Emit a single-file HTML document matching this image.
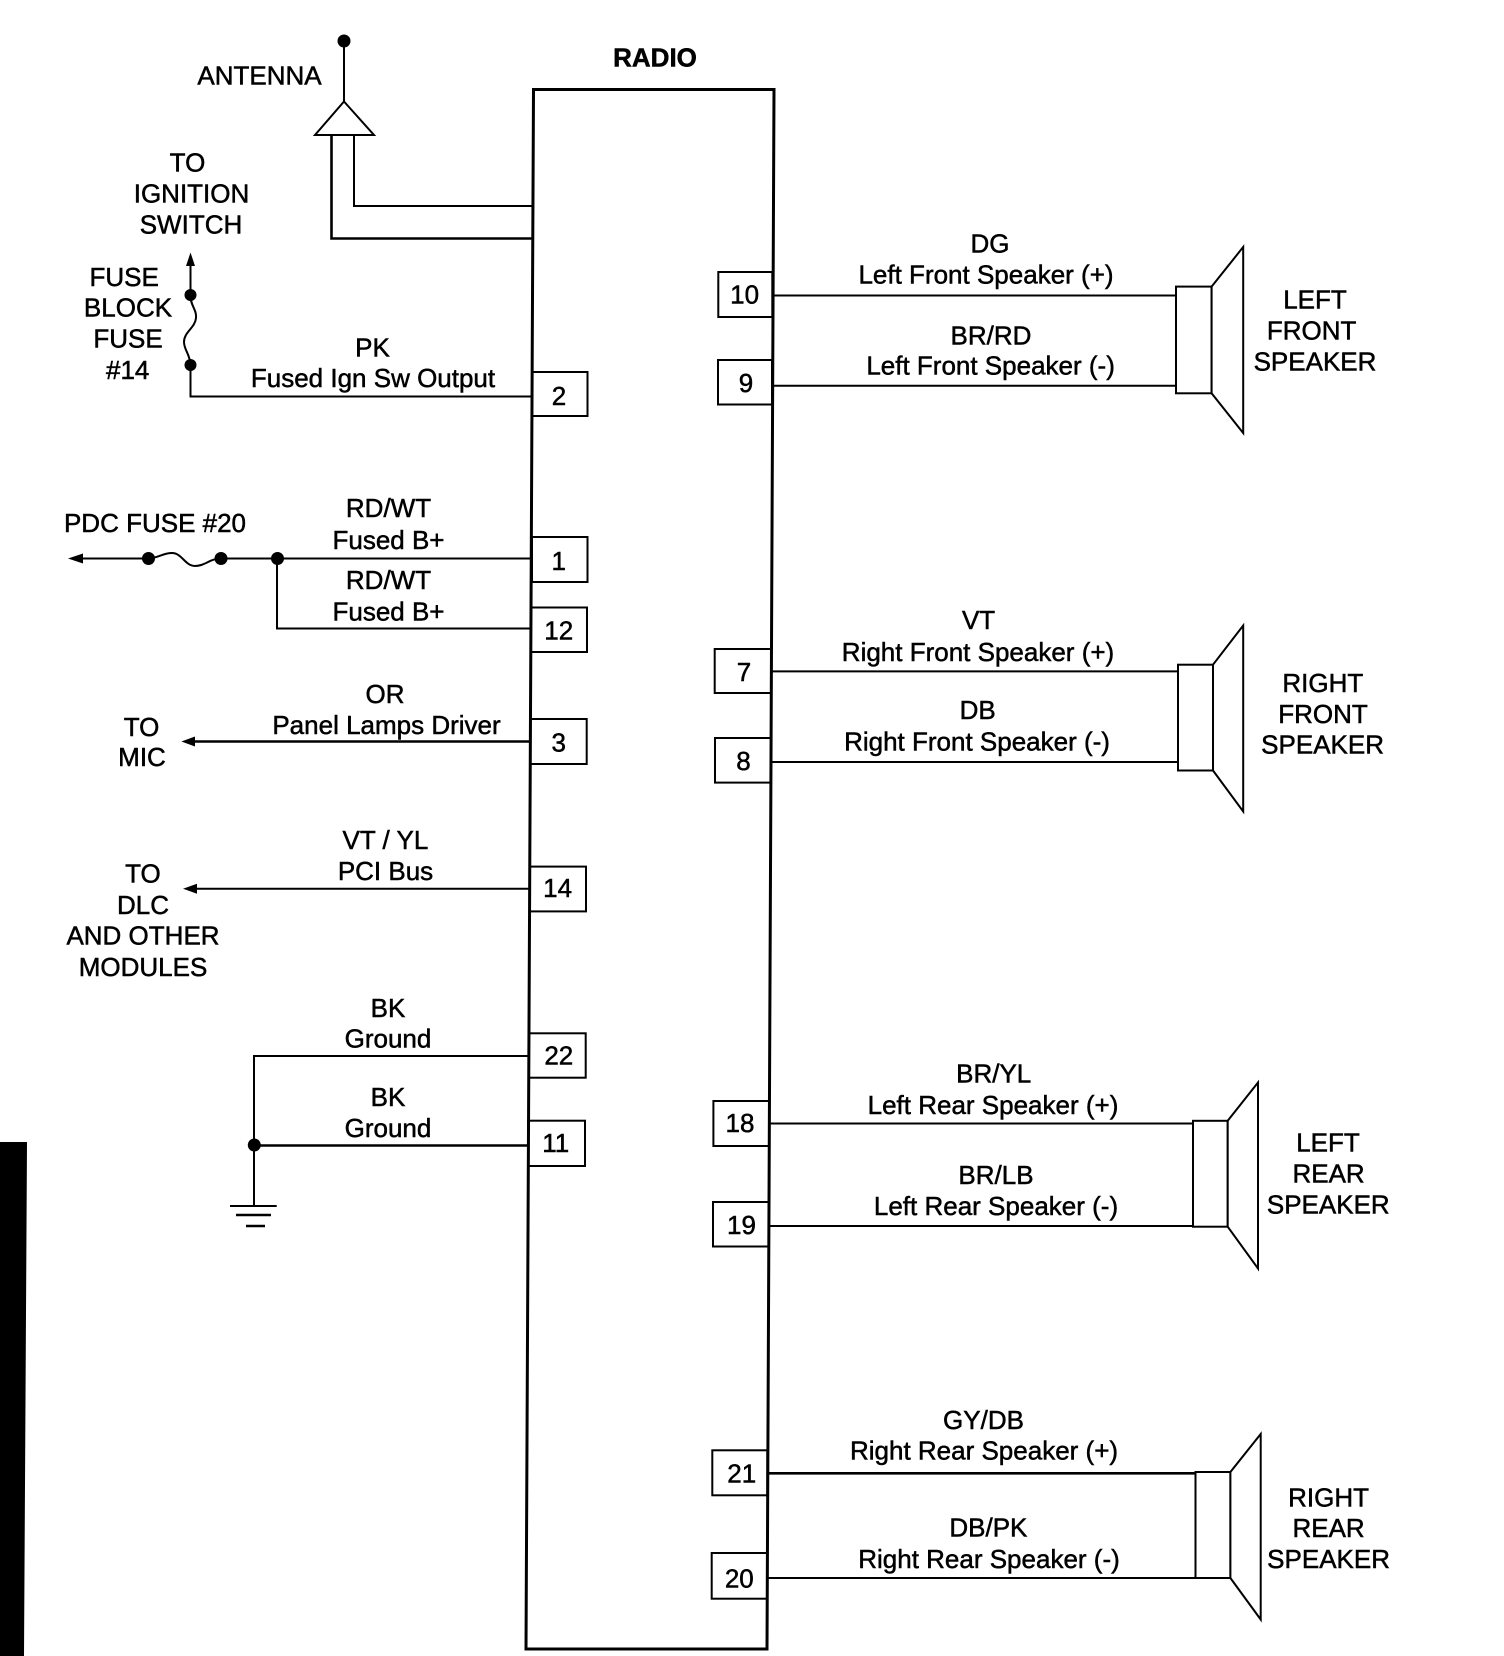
<!DOCTYPE html>
<html lang="en"><head><meta charset="utf-8"><title>Radio wiring diagram</title>
<style>
html,body{margin:0;padding:0;background:#fff}
svg{display:block}
text{font-family:"Liberation Sans",Arial,sans-serif;font-size:26px;fill:#000;text-anchor:middle;stroke:#000;stroke-width:.5px}
.b{font-weight:bold}
.w{fill:none;stroke:#000;stroke-width:2}
.t{fill:none;stroke:#000;stroke-width:2.6}
.p{fill:#fff;stroke:#000;stroke-width:2}
</style></head><body>
<svg width="1504" height="1656" viewBox="0 0 1504 1656" xmlns="http://www.w3.org/2000/svg">
<rect width="1504" height="1656" fill="#fff"/>
<polygon points="0,1142 27,1142 24,1656 0,1656" fill="#000"/>

<!-- pins -->
<rect class="p" x="532" y="372" width="55.5" height="44"/>
<rect class="p" x="532" y="537" width="55.5" height="45"/>
<rect class="p" x="531" y="607.5" width="56" height="44.5"/>
<rect class="p" x="530" y="719" width="56.7" height="45"/>
<rect class="p" x="530" y="866.6" width="56" height="44.8"/>
<rect class="p" x="529" y="1033.3" width="56.7" height="44.4"/>
<rect class="p" x="528" y="1120.7" width="57" height="45.3"/>
<rect class="p" x="718.3" y="272" width="54" height="45"/>
<rect class="p" x="718" y="360" width="54" height="44.5"/>
<rect class="p" x="714.7" y="649" width="56.5" height="44"/>
<rect class="p" x="715" y="738" width="56" height="44.6"/>
<rect class="p" x="713.4" y="1101" width="56" height="45"/>
<rect class="p" x="713" y="1202" width="56" height="44.5"/>
<rect class="p" x="712.3" y="1450.3" width="55" height="45"/>
<rect class="p" x="711.7" y="1553" width="55.5" height="45.7"/>

<!-- radio body -->
<polygon points="533.5,89.5 774,89.5 767,1649 526,1649" fill="none" stroke="#000" stroke-width="3"/>

<!-- antenna -->
<circle cx="344" cy="41" r="6.5"/>
<path class="w" d="M344 41V101"/>
<polygon points="344,101.5 374,135 315,135" fill="#fff" stroke="#000" stroke-width="2"/>
<path class="t" d="M331.5 135V238.5H533"/>
<path class="w" d="M354 135V206H533"/>

<!-- fuse block fuse -->
<polygon points="190.5,252.5 195,266 186,266"/>
<path class="w" d="M190.5 262V295"/>
<circle cx="190.5" cy="295" r="6"/><circle cx="190.5" cy="365" r="6"/>
<path class="w" d="M190.5 295C190 305 197 310 196 318C195 328 184 332 184 342C184 350 190 354 190.5 365"/>
<path class="w" d="M190.5 365V396.5H532"/>

<!-- B+ -->
<polygon points="68,558.5 83,553.5 83,563.5"/>
<path class="w" d="M78 558.5H148.5M221 558.5H531"/>
<circle cx="148.5" cy="558.5" r="6.5"/><circle cx="221" cy="558.5" r="6.5"/><circle cx="277.5" cy="558.5" r="6.5"/>
<path class="w" d="M148.5 558.5C158 558 163 553 172 553C182 553 185 566 195 566C205 566 210 558.5 221 558.5"/>
<path class="w" d="M277 558.5V628.5H531"/>

<!-- to mic / dlc -->
<polygon points="181.4,741.5 195,736.5 195,746.5"/>
<path class="t" d="M190 741.5H530"/>
<polygon points="183,888.7 197,883.7 197,893.7"/>
<path class="w" d="M192 888.7H530"/>

<!-- ground -->
<path class="w" d="M529 1056H254V1206"/>
<path class="t" d="M254 1145.5H529"/>
<circle cx="254.3" cy="1145" r="6.5"/>
<path class="w" d="M230 1206H276.7"/>
<path class="t" d="M236 1215H271M246 1226H265"/>

<!-- speaker wires -->
<path class="w" d="M773 295.5H1176M772 385.8H1176M771 671.4H1178.6M771 762H1178M769 1123.5H1193M769 1226H1193M767 1578H1195.5"/>
<path class="t" d="M767 1473.3H1196.4"/>

<!-- speakers -->
<g fill="#fff" stroke="#000" stroke-width="2">
<rect x="1176" y="286.6" width="35.6" height="106.7"/>
<polygon points="1211.6,286.6 1243.2,247 1243.2,433 1211.6,393.3"/>
<rect x="1178" y="664.7" width="35" height="105.8"/>
<polygon points="1213,664.7 1243.2,625.5 1243.2,811.5 1213,770.5"/>
<rect x="1193" y="1120.8" width="34.7" height="105.9"/>
<polygon points="1227.7,1120.8 1258,1082.5 1258,1268.5 1227.7,1226.7"/>
<rect x="1195.5" y="1472" width="34.9" height="106"/>
<polygon points="1230.4,1472 1260.7,1434 1260.7,1619.5 1230.4,1578"/>
</g>

<!-- left labels -->
<text class="b" x="655" y="66.6">RADIO</text>
<text x="259.5" y="84.6">ANTENNA</text>
<text x="187.5" y="171.5">TO</text>
<text x="191.5" y="202.5">IGNITION</text>
<text x="191" y="233.5">SWITCH</text>
<text x="124.2" y="286">FUSE</text>
<text x="128" y="316.5">BLOCK</text>
<text x="128" y="347.5">FUSE</text>
<text x="127.7" y="379">#14</text>
<text x="372.5" y="356.5">PK</text>
<text x="373" y="387.2">Fused Ign Sw Output</text>
<text x="155" y="532">PDC FUSE #20</text>
<text x="388.5" y="517">RD/WT</text>
<text x="388.5" y="549">Fused B+</text>
<text x="388.5" y="589">RD/WT</text>
<text x="388.5" y="620.5">Fused B+</text>
<text x="385" y="703">OR</text>
<text x="386.5" y="734">Panel Lamps Driver</text>
<text x="141.6" y="736">TO</text>
<text x="142" y="766">MIC</text>
<text x="385.4" y="849">VT / YL</text>
<text x="385.5" y="880">PCI Bus</text>
<text x="142.9" y="882.7">TO</text>
<text x="143" y="914">DLC</text>
<text x="143" y="944.7">AND OTHER</text>
<text x="143" y="976">MODULES</text>
<text x="388" y="1017">BK</text>
<text x="388" y="1047.3">Ground</text>
<text x="388" y="1106">BK</text>
<text x="388" y="1137">Ground</text>

<!-- pin labels -->
<text x="559" y="405">2</text>
<text x="558.7" y="570">1</text>
<text x="558.7" y="639.5">12</text>
<text x="558.7" y="751.7">3</text>
<text x="557.6" y="897">14</text>
<text x="558.8" y="1064.3">22</text>
<text x="555.7" y="1152">11</text>
<text x="744.6" y="303.6">10</text>
<text x="746" y="392">9</text>
<text x="744" y="680.8">7</text>
<text x="743.5" y="770">8</text>
<text x="740" y="1132">18</text>
<text x="741.5" y="1234">19</text>
<text x="741.7" y="1482.7">21</text>
<text x="739.3" y="1587.7">20</text>

<!-- right wire labels -->
<text x="990" y="252.7">DG</text>
<text x="986" y="283.5">Left Front Speaker (+)</text>
<text x="991" y="344.5">BR/RD</text>
<text x="990.6" y="374.5">Left Front Speaker (-)</text>
<text x="978.6" y="629">VT</text>
<text x="978" y="661">Right Front Speaker (+)</text>
<text x="977.7" y="718.8">DB</text>
<text x="977" y="750.4">Right Front Speaker (-)</text>
<text x="993.7" y="1082.5">BR/YL</text>
<text x="993" y="1113.8">Left Rear Speaker (+)</text>
<text x="996" y="1183.8">BR/LB</text>
<text x="996" y="1215">Left Rear Speaker (-)</text>
<text x="983.5" y="1429">GY/DB</text>
<text x="984" y="1459.5">Right Rear Speaker (+)</text>
<text x="988.4" y="1536.5">DB/PK</text>
<text x="989" y="1568">Right Rear Speaker (-)</text>

<!-- speaker labels -->
<text x="1315" y="308.5">LEFT</text>
<text x="1311.6" y="339.3">FRONT</text>
<text x="1315" y="370.5">SPEAKER</text>
<text x="1322.8" y="692">RIGHT</text>
<text x="1323" y="723">FRONT</text>
<text x="1322.6" y="753.6">SPEAKER</text>
<text x="1328" y="1151.7">LEFT</text>
<text x="1328.6" y="1182.6">REAR</text>
<text x="1328.3" y="1213.6">SPEAKER</text>
<text x="1328.6" y="1506.3">RIGHT</text>
<text x="1328.6" y="1537">REAR</text>
<text x="1328.6" y="1568">SPEAKER</text>
</svg>
</body></html>
